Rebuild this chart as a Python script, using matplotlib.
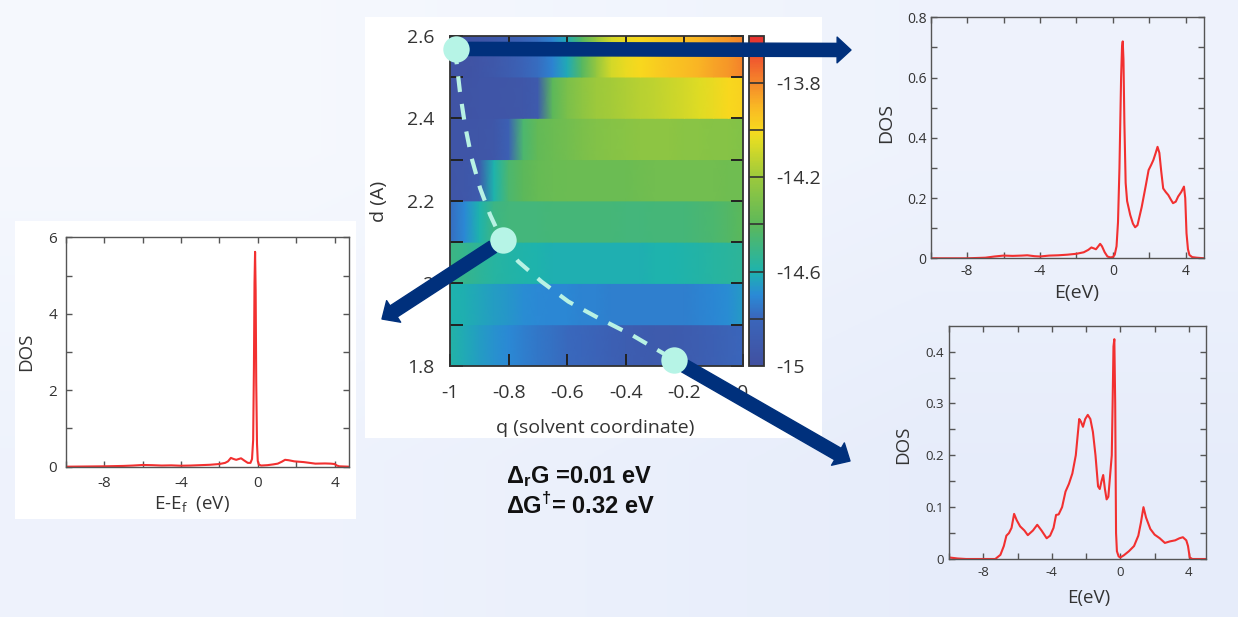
import numpy as np
import matplotlib
matplotlib.use('Agg')
import matplotlib.pyplot as plt
from matplotlib.colors import LinearSegmentedColormap
from matplotlib.patches import Rectangle

# ---------------- data ----------------
# free-energy map: q (solvent coordinate) grid and d bands
q_grid = [-1.0, -0.95, -0.9, -0.85, -0.8, -0.75, -0.7, -0.65, -0.6, -0.55, -0.5,
          -0.45, -0.4, -0.35, -0.3, -0.25, -0.2, -0.15, -0.1, -0.05, 0.0]
d_lower = [1.8, 1.9, 2.0, 2.1, 2.2, 2.3, 2.4, 2.5]

energy_d18 = [-14.58, -14.62, -14.65, -14.68, -14.70, -14.73, -14.75, -14.77, -14.79, -14.80, -14.82,
              -14.85, -14.87, -14.89, -14.90, -14.90, -14.89, -14.87, -14.85, -14.83, -14.80]
energy_d19 = [-14.60, -14.61, -14.63, -14.65, -14.67, -14.69, -14.70, -14.71, -14.71, -14.72, -14.72,
              -14.73, -14.73, -14.73, -14.73, -14.73, -14.73, -14.72, -14.71, -14.69, -14.66]
energy_d20 = [-14.50, -14.52, -14.55, -14.57, -14.58, -14.59, -14.60, -14.61, -14.61, -14.61, -14.61,
              -14.61, -14.61, -14.61, -14.60, -14.60, -14.59, -14.58, -14.57, -14.56, -14.55]
energy_d21 = [-14.78, -14.70, -14.60, -14.50, -14.48, -14.48, -14.48, -14.47, -14.47, -14.47, -14.47,
              -14.47, -14.48, -14.48, -14.47, -14.47, -14.47, -14.46, -14.45, -14.43, -14.40]
energy_d22 = [-14.94, -14.93, -14.90, -14.60, -14.45, -14.40, -14.37, -14.36, -14.35, -14.35, -14.35,
              -14.35, -14.35, -14.34, -14.33, -14.33, -14.33, -14.33, -14.33, -14.34, -14.34]
energy_d23 = [-14.95, -14.95, -14.94, -14.93, -14.85, -14.45, -14.38, -14.35, -14.33, -14.30, -14.28,
              -14.27, -14.26, -14.25, -14.25, -14.25, -14.26, -14.26, -14.27, -14.27, -14.28]
energy_d24 = [-14.96, -14.96, -14.95, -14.95, -14.94, -14.93, -14.90, -14.40, -14.30, -14.25, -14.20,
              -14.18, -14.16, -14.14, -14.12, -14.10, -14.08, -14.05, -14.03, -14.00, -13.98]
energy_d25 = [-14.97, -14.97, -14.95, -14.92, -14.88, -14.83, -14.78, -14.72, -14.62, -14.42, -14.22,
              -14.08, -14.03, -14.00, -13.97, -13.94, -13.92, -13.89, -13.86, -13.83, -13.79]
energy_rows = [energy_d18, energy_d19, energy_d20, energy_d21,
               energy_d22, energy_d23, energy_d24, energy_d25]

# minimum-energy path and marked states
path_q = [-0.983, -0.966, -0.949, -0.926, -0.897, -0.863, -0.823, -0.767, -0.687,
          -0.596, -0.493, -0.379, -0.237]
path_d = [2.569, 2.464, 2.384, 2.303, 2.230, 2.166, 2.105, 2.053, 2.004,
          1.956, 1.916, 1.875, 1.816]
state_q = [-0.980, -0.818, -0.236]
state_d = [2.568, 2.105, 1.815]

# DOS curves
E_left = [-10, -9, -8, -7, -6.5, -6, -5.5, -5, -4.5, -4, -3.5, -3, -2.5, -2, -1.7, -1.55,
          -1.4, -1.25, -1.12, -1.0, -0.87, -0.7, -0.52, -0.38, -0.3, -0.24, -0.2, -0.17,
          -0.14, -0.11, -0.08, -0.04, 0.0, 0.05, 0.17, 0.5, 0.8, 1.04, 1.25, 1.42, 1.6,
          1.9, 2.4, 3.0, 3.5, 3.8, 4.0, 4.12, 4.25, 4.75]
DOS_left = [0.0, 0.005, 0.01, 0.02, 0.03, 0.045, 0.04, 0.03, 0.035, 0.025, 0.03, 0.04,
            0.05, 0.07, 0.1, 0.14, 0.23, 0.2, 0.18, 0.2, 0.22, 0.16, 0.1, 0.1, 0.2, 0.7,
            2.6, 4.8, 5.62, 4.6, 2.2, 0.6, 0.15, 0.06, 0.03, 0.04, 0.06, 0.08, 0.13, 0.18,
            0.17, 0.14, 0.12, 0.08, 0.085, 0.08, 0.07, 0.03, 0.01, 0.0]

E_tr = [-10, -8, -7, -6.5, -6, -5.5, -5, -4.7, -4.3, -4, -3.5, -3, -2.5, -2, -1.6, -1.35,
        -1.18, -1.05, -0.93, -0.8, -0.7, -0.6, -0.45, -0.3, -0.15, 0.0, 0.1, 0.2, 0.28,
        0.36, 0.45, 0.5, 0.54, 0.58, 0.63, 0.7, 0.78, 0.95, 1.1, 1.22, 1.35, 1.58, 1.8,
        1.96, 2.1, 2.22, 2.35, 2.45, 2.55, 2.65, 2.76, 2.9, 3.04, 3.18, 3.3, 3.45, 3.58,
        3.75, 3.9, 3.97, 4.04, 4.12, 4.2, 4.35, 4.6, 5.0]
DOS_tr = [0, 0, 0.002, 0.006, 0.009, 0.008, 0.009, 0.01, 0.007, 0.006, 0.009, 0.01,
          0.012, 0.015, 0.02, 0.028, 0.036, 0.033, 0.03, 0.04, 0.048, 0.04, 0.02, 0.006,
          0.003, 0.004, 0.012, 0.04, 0.12, 0.3, 0.6, 0.70, 0.72, 0.66, 0.45, 0.25, 0.19,
          0.144, 0.115, 0.103, 0.11, 0.17, 0.24, 0.293, 0.31, 0.326, 0.35, 0.37, 0.35,
          0.29, 0.232, 0.22, 0.21, 0.195, 0.183, 0.188, 0.205, 0.22, 0.238, 0.2, 0.083,
          0.03, 0.011, 0.004, 0.002, 0]

E_br = [-10, -9.5, -9, -8, -7.3, -7.0, -6.8, -6.65, -6.5, -6.35, -6.2, -6.05, -5.85,
        -5.6, -5.4, -5.1, -4.85, -4.6, -4.3, -4.1, -3.9, -3.75, -3.6, -3.4, -3.2, -3.0,
        -2.8, -2.6, -2.4, -2.3, -2.18, -2.05, -1.9, -1.75, -1.6, -1.45, -1.3, -1.2,
        -1.1, -1.0, -0.9, -0.8, -0.7, -0.6, -0.5, -0.45, -0.4, -0.35, -0.3, -0.25,
        -0.2, -0.1, 0.0, 0.2, 0.5, 0.8, 1.05, 1.2, 1.35, 1.5, 1.75, 2.0, 2.3, 2.6, 2.9,
        3.2, 3.45, 3.65, 3.85, 3.95, 4.05, 4.2, 5.0]
DOS_br = [0.003, 0.001, 0, 0, 0, 0.008, 0.025, 0.045, 0.05, 0.06, 0.087, 0.075, 0.063,
          0.055, 0.046, 0.055, 0.066, 0.055, 0.04, 0.045, 0.06, 0.085, 0.086, 0.1, 0.13,
          0.145, 0.165, 0.2, 0.27, 0.265, 0.255, 0.27, 0.278, 0.27, 0.245, 0.2, 0.14,
          0.135, 0.15, 0.162, 0.135, 0.115, 0.12, 0.16, 0.2, 0.3, 0.41, 0.424, 0.3, 0.05,
          0.015, 0.005, 0.003, 0.007, 0.015, 0.025, 0.045, 0.07, 0.1, 0.08, 0.058, 0.047,
          0.04, 0.031, 0.034, 0.036, 0.04, 0.042, 0.036, 0.025, 0.003, 0, 0]

# ---------------- figure ----------------
W, H = 1238, 617
fig = plt.figure(figsize=(W / 100, H / 100), dpi=100)
plt.rcParams['font.family'] = ['Open Sans', 'DejaVu Sans']


def rect(l, t, r, b):
    return [l / W, (H - b) / H, (r - l) / W, (b - t) / H]


# background with subtle gradient and white panels
bg = fig.add_axes([0, 0, 1, 1])
bg.set_zorder(-10)
bg.axis('off')
grad = np.array([[[0.962, 0.973, 0.996], [0.935, 0.952, 0.99]],
                 [[0.935, 0.952, 0.99], [0.905, 0.928, 0.982]]])
bg.imshow(grad, extent=(0, W, H, 0), interpolation='bilinear', aspect='auto')
bg.add_patch(Rectangle((15, 221), 341, 298, fc='white', ec='none'))
bg.add_patch(Rectangle((365, 17), 457, 421, fc='white', ec='none'))
bg.set_xlim(0, W)
bg.set_ylim(H, 0)

# colormap (parula-like, extended to red)
cmap = LinearSegmentedColormap.from_list('pes', [
    (0.0, '#4150a0'), (0.1429, '#3a66bb'), (0.214, '#2a8ad6'), (0.2857, '#1eb3ad'),
    (0.4286, '#5cb85a'), (0.5714, '#9cc93c'), (0.68, '#e0dc24'), (0.714, '#f8d81e'),
    (0.786, '#f9b824'), (0.857, '#f5882a'), (0.929, '#f05a2e'), (1.0, '#e63030')])
vmin, vmax = -15.0, -13.6

# --- heatmap ---
ax = fig.add_axes(rect(450, 35.7, 743, 366))
ax.set_zorder(5)
qg = np.array(q_grid)
mesh = None
for d0, row in zip(d_lower, energy_rows):
    X = np.vstack([qg, qg])
    Y = np.vstack([np.full_like(qg, d0), np.full_like(qg, d0 + 0.1)])
    C = np.vstack([row, row])
    mesh = ax.pcolormesh(X, Y, C, shading='gouraud', cmap=cmap, vmin=vmin, vmax=vmax,
                         rasterized=True)
ax.set_xlim(-1, 0)
ax.set_ylim(1.8, 2.6)
ax.set_xticks([-1, -0.8, -0.6, -0.4, -0.2, 0])
ax.set_xticklabels(['-1', '-0.8', '-0.6', '-0.4', '-0.2', '0'])
ax.set_yticks([1.8, 1.9, 2.0, 2.1, 2.2, 2.3, 2.4, 2.5, 2.6])
ax.set_yticklabels(['1.8', '', '2', '', '2.2', '', '2.4', '', '2.6'])
ax.tick_params(direction='in', length=9, width=1.4, color='#222222', labelsize=14,
               labelcolor='#333333', top=True, right=True)
ax.tick_params(axis='x', pad=13)
ax.tick_params(axis='y', pad=11)
for s in ax.spines.values():
    s.set_color('#333333')
    s.set_linewidth(1.3)
ax.set_xlabel('q (solvent coordinate)', fontsize=14, color='#333333')
ax.xaxis.set_label_coords(0.495, -0.189)
ax.xaxis.label.set_va('center')
ax.set_ylabel('d (A)', fontsize=14, color='#333333')
ax.yaxis.set_label_coords(-0.242, 0.497)
ax.yaxis.label.set_va('center')
ax.yaxis.label.set_ha('center')

# path and states
ax.plot(path_q, path_d, color='#b8f2e4', lw=3.0, dashes=(3.8, 2.9), clip_on=False,
        zorder=6, dash_capstyle='butt')
ax.plot(state_q, state_d, 'o', ms=19, mfc='#b6f4e6', mec='none', clip_on=False, zorder=8)

# arrows from states to DOS panels
navy = '#00307c'
targets = [(851, H - 50), (382, H - 319), (850, H - 461)]
for (sq, sd), tgt in zip(zip(state_q, state_d), targets):
    ax.annotate('', xy=tgt, xycoords='figure pixels', xytext=(sq, sd), textcoords='data',
                arrowprops=dict(arrowstyle='simple,head_length=1.0,head_width=1.85,tail_width=0.95',
                                color=navy, shrinkA=9, shrinkB=0, mutation_scale=10),
                zorder=7)

# colorbar
cax = fig.add_axes(rect(749, 35.7, 764, 366))
cb = fig.colorbar(mesh, cax=cax)
cb.set_ticks([-15, -14.6, -14.2, -13.8])
cb.set_ticklabels(['-15', '-14.6', '-14.2', '-13.8'])
cax.tick_params(length=0, labelsize=14, labelcolor='#333333', pad=9)
for lv in [-14.8, -14.6, -14.4, -14.2, -14.0, -13.8]:
    cax.axhline(lv, color='#333333', lw=1.2)
cb.outline.set_edgecolor('#333333')
cb.outline.set_linewidth(1.3)


def dos_axes(pos, E, D, ylim, yticks, ylabels, xlim, ylab_xy, xlab_xy, xlabel,
             tsize, lsize, xpad, ypad):
    a = fig.add_axes(pos)
    a.plot(E, D, color='#f23030', lw=1.5)
    a.set_xlim(*xlim)
    a.set_ylim(*ylim)
    a.set_xticks([-10, -8, -6, -4, -2, 0, 2, 4])
    a.set_xticklabels(['', '-8', '', '-4', '', '0', '', '4'])
    a.set_yticks(yticks)
    a.set_yticklabels(ylabels)
    a.tick_params(direction='in', length=4, width=1.0, color='#555555', labelsize=tsize,
                  labelcolor='#333333', top=True, right=True)
    a.tick_params(axis='x', pad=xpad)
    a.tick_params(axis='y', pad=ypad)
    for s in a.spines.values():
        s.set_color('#555555')
        s.set_linewidth(1.0)
    a.set_facecolor('none')
    a.set_ylabel('DOS', fontsize=lsize, color='#333333')
    a.yaxis.set_label_coords(*ylab_xy)
    a.yaxis.label.set_va('center')
    a.yaxis.label.set_ha('center')
    a.set_xlabel(xlabel, fontsize=lsize, color='#333333')
    a.xaxis.set_label_coords(*xlab_xy)
    a.xaxis.label.set_va('center')
    return a


# left DOS
dos_axes(rect(65.7, 237.3, 349, 466.7), E_left, DOS_left, (0, 6),
         [0, 1, 2, 3, 4, 5, 6], ['0', '', '2', '', '4', '', '6'], (-10, 4.75),
         (-0.138, 0.501), (0.445, -0.167), r'E-E$_\mathregular{f}$  (eV)',
         11, 13.5, 7, 6)

# top-right DOS
dos_axes(rect(930.7, 17.3, 1204, 258.3), E_tr, DOS_tr, (0, 0.8),
         [0, 0.1, 0.2, 0.3, 0.4, 0.5, 0.6, 0.7, 0.8],
         ['0', '', '0.2', '', '0.4', '', '0.6', '', '0.8'], (-10, 5),
         (-0.164, 0.561), (0.534, -0.144), 'E(eV)', 10, 14, 4, 3)

# bottom-right DOS
dos_axes(rect(949, 325.7, 1206, 559), E_br, DOS_br, (0, 0.45),
         [0, 0.05, 0.1, 0.15, 0.2, 0.25, 0.3, 0.35, 0.4],
         ['0', '', '0.1', '', '0.2', '', '0.3', '', '0.4'], (-10, 5),
         (-0.178, 0.489), (0.542, -0.168), 'E(eV)', 9.5, 13.5, 5, 3.5)

# reaction / activation free energies
fig.text(506 / W, 1 - 477 / H, r'$\mathregular{Δ_r}$G =0.01 eV', fontsize=17,
         family='Liberation Sans', weight='bold', va='center', ha='left', color='#111111')
fig.text(506 / W, 1 - 506 / H, r'ΔG$^{\mathregular{†}}$= 0.32 eV', fontsize=17,
         family='Liberation Sans', weight='bold', va='center', ha='left', color='#111111')

fig.savefig('out.png', dpi=100)
